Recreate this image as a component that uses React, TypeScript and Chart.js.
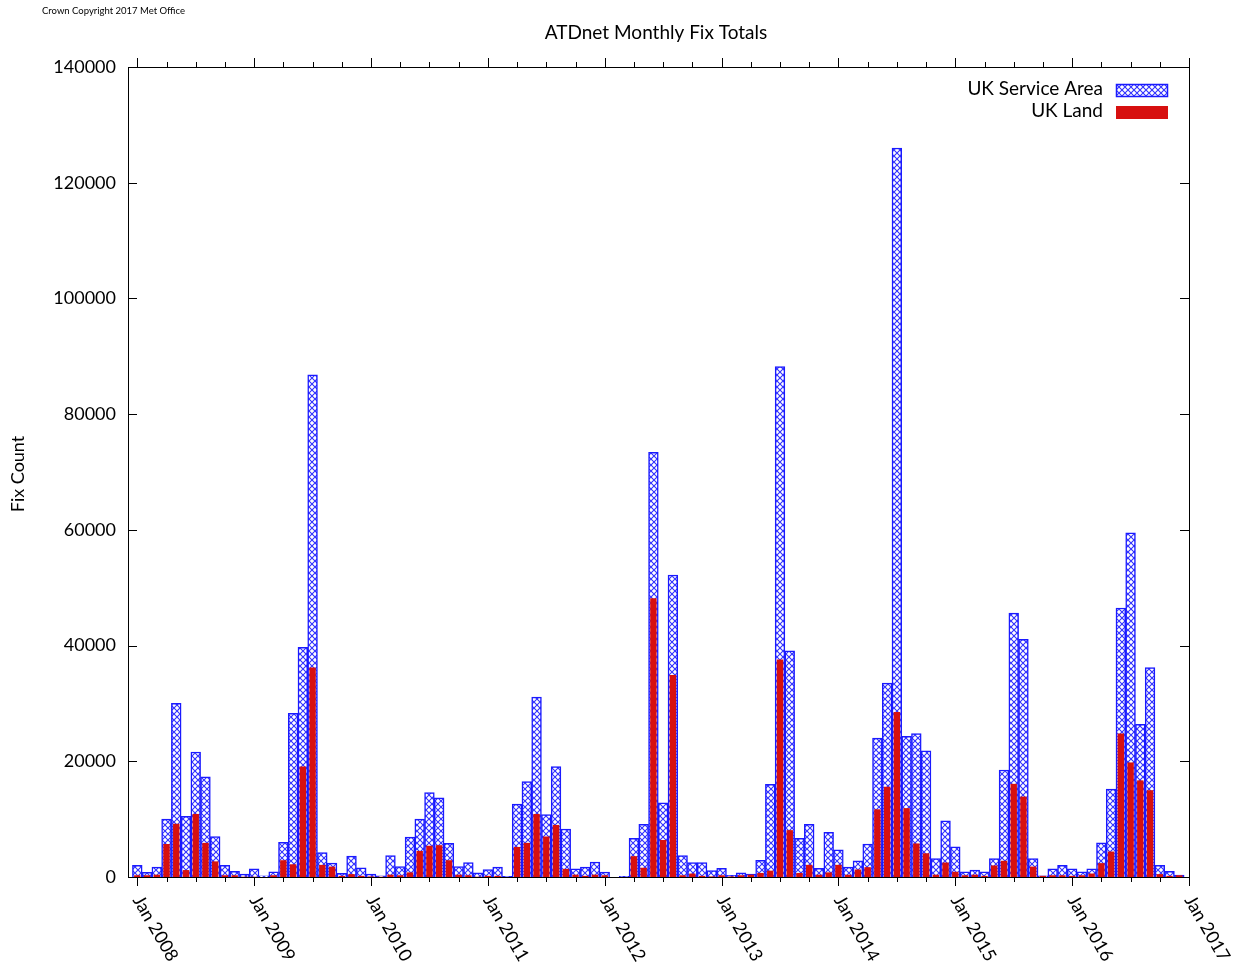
import React, { useEffect, useRef } from 'react';
import { Chart, registerables } from 'chart.js';

Chart.register(...registerables);

// ---- data ----
const yearLabels = [
  'Jan 2008', 'Jan 2009', 'Jan 2010', 'Jan 2011', 'Jan 2012',
  'Jan 2013', 'Jan 2014', 'Jan 2015', 'Jan 2016', 'Jan 2017',
];

// monthly totals, Jan 2008 .. Dec 2016
const serviceArea = [
  2000, 800, 1700, 10000, 30000, 10500, 21600, 17300, 7000, 2000, 1000, 500,
  1400, 200, 900, 6000, 28300, 39700, 86800, 4200, 2400, 650, 3600, 1600,
  500, 200, 3700, 1800, 6900, 10000, 14600, 13700, 5800, 1800, 2500, 700,
  1300, 1700, 100, 12600, 16500, 31100, 10800, 19100, 8300, 1400, 1700, 2600,
  850, 0, 100, 6700, 9100, 73400, 12800, 52200, 3700, 2500, 2500, 1100,
  1500, 300, 700, 500, 2900, 16000, 88200, 39100, 6700, 9100, 1500, 7700,
  4700, 1700, 2800, 5700, 24000, 33500, 126000, 24300, 24800, 21800, 3200, 9700,
  5200, 900, 1200, 900, 3200, 18500, 45600, 41100, 3200, 200, 1400, 2000,
  1400, 900, 1400, 5900, 15200, 46500, 59500, 26400, 36200, 2000, 1000, 350,
];

const ukLand = [
  300, 300, 400, 5700, 9200, 1200, 10900, 5900, 2700, 300, 300, 50,
  50, 0, 300, 2900, 2200, 19100, 36200, 2100, 1800, 200, 500, 200,
  100, 50, 400, 300, 800, 4500, 5400, 5500, 2900, 400, 300, 50,
  200, 200, 0, 5200, 5900, 10900, 7000, 9000, 1400, 400, 200, 400,
  300, 0, 0, 3600, 1600, 48200, 6400, 34900, 300, 600, 200, 100,
  300, 100, 300, 400, 700, 1100, 37600, 8100, 700, 2100, 400, 800,
  2100, 400, 1300, 1700, 11700, 15600, 28500, 11900, 5800, 4100, 400, 2500,
  900, 300, 400, 200, 2000, 2800, 16100, 13900, 1800, 200, 300, 300,
  200, 300, 600, 2400, 4400, 24800, 19800, 16700, 15000, 500, 200, 300,
];

const yTickValues = [0, 20000, 40000, 60000, 80000, 100000, 120000, 140000];

const seriesNames = ['UK Service Area', 'UK Land'];
const titleText = 'ATDnet Monthly Fix Totals';
const yAxisTitle = 'Fix Count';
const copyrightText = 'Crown Copyright 2017 Met Office';

const FONT = 'Lato, "DejaVu Sans", sans-serif';
const BLUE = '#1a1aff';
const RED = '#d7100f';

function makeHatch(): CanvasPattern | string {
  const c = document.createElement('canvas');
  c.width = 6;
  c.height = 6;
  const g = c.getContext('2d');
  if (!g) return '#ccccff';
  g.fillStyle = '#ffffff';
  g.fillRect(0, 0, 6, 6);
  g.strokeStyle = 'rgba(25,25,255,0.9)';
  g.lineWidth = 1.1;
  g.beginPath();
  g.moveTo(0, 0);
  g.lineTo(6, 6);
  g.moveTo(6, 0);
  g.lineTo(0, 6);
  g.stroke();
  return g.createPattern(c, 'repeat') || '#ccccff';
}

export default function App() {
  const ref = useRef<HTMLCanvasElement | null>(null);

  useEffect(() => {
    if (!ref.current) return;
    const hatch = makeHatch();

    const decor = {
      id: 'decor',
      afterDraw(chart: any) {
        const ctx: CanvasRenderingContext2D = chart.ctx;
        const { left, right, top, bottom } = chart.chartArea;
        const xs = chart.scales.x;
        const ys = chart.scales.y;
        ctx.save();
        ctx.strokeStyle = '#000';
        ctx.lineWidth = 1;
        // border
        ctx.strokeRect(Math.round(left) + 0.5, Math.round(top) + 0.5, Math.round(right - left), Math.round(bottom - top));
        // y ticks (inward, both sides)
        ctx.beginPath();
        yTickValues.forEach((v) => {
          const py = Math.round(ys.getPixelForValue(v)) + 0.5;
          ctx.moveTo(left, py);
          ctx.lineTo(left + 9, py);
          ctx.moveTo(right, py);
          ctx.lineTo(right - 9, py);
        });
        // x ticks (outward, bottom and top), every 3 months
        for (let m = 0; m <= yearLabels.length * 12 - 12; m += 3) {
          const px = Math.round(xs.getPixelForValue(m)) + 0.5;
          const major = m % 12 === 0;
          const len = major ? 9 : 5;
          ctx.moveTo(px, bottom);
          ctx.lineTo(px, bottom + len);
          ctx.moveTo(px, top);
          ctx.lineTo(px, top - len);
        }
        ctx.stroke();

        ctx.fillStyle = '#000';
        // x labels rotated
        ctx.font = `18px ${FONT}`;
        ctx.textAlign = 'left';
        ctx.textBaseline = 'middle';
        yearLabels.forEach((lab, k) => {
          const px = xs.getPixelForValue(k * 12);
          ctx.save();
          ctx.translate(px, bottom + 20);
          ctx.rotate((60 * Math.PI) / 180);
          ctx.fillText(lab, 0, 0);
          ctx.restore();
        });

        // title
        ctx.font = `19px ${FONT}`;
        ctx.textAlign = 'center';
        ctx.fillText(titleText, 656, 33);

        // copyright
        ctx.font = `9.5px ${FONT}`;
        ctx.textAlign = 'left';
        ctx.fillText(copyrightText, 42, 11);

        // y axis title
        ctx.save();
        ctx.font = `18px ${FONT}`;
        ctx.textAlign = 'center';
        ctx.translate(18, 474);
        ctx.rotate(-Math.PI / 2);
        ctx.fillText(yAxisTitle, 0, 0);
        ctx.restore();

        // legend
        ctx.font = `19px ${FONT}`;
        ctx.textAlign = 'right';
        ctx.fillText(seriesNames[0], 1103, 89);
        ctx.fillText(seriesNames[1], 1103, 111);
        ctx.fillStyle = hatch as any;
        ctx.fillRect(1116, 84, 52, 13);
        ctx.strokeStyle = BLUE;
        ctx.lineWidth = 1.5;
        ctx.strokeRect(1116.5, 84.5, 51, 12);
        ctx.fillStyle = RED;
        ctx.fillRect(1116, 106, 52, 13);
        ctx.restore();
      },
    };

    const chart = new Chart(ref.current, {
      type: 'bar',
      data: {
        datasets: [
          {
            label: seriesNames[0],
            data: serviceArea.map((y, i) => ({ x: i, y })),
            backgroundColor: hatch as any,
            borderColor: BLUE,
            borderWidth: 1.5,
            barPercentage: 1,
            categoryPercentage: 1,
            grouped: false,
            order: 2,
          } as any,
          {
            label: seriesNames[1],
            data: ukLand.map((y, i) => ({ x: i, y })),
            backgroundColor: RED,
            borderWidth: 0,
            barPercentage: 0.66,
            categoryPercentage: 1,
            grouped: false,
            order: 1,
          } as any,
        ],
      },
      options: {
        animation: false,
        responsive: false,
        devicePixelRatio: 1,
        layout: { padding: { left: 0, right: 56, top: 67, bottom: 0 } },
        plugins: {
          legend: { display: false },
          tooltip: { enabled: false },
          title: { display: false },
        },
        scales: {
          x: {
            type: 'linear',
            min: -0.955,
            max: 108,
            offset: false,
            grid: { display: false, drawTicks: false },
            border: { display: false },
            ticks: { display: false },
            afterFit: (s: any) => {
              s.height = 89;
            },
          },
          y: {
            min: 0,
            max: 140000,
            grid: { display: false, drawTicks: false },
            border: { display: false },
            ticks: {
              stepSize: 20000,
              color: '#000',
              padding: 12,
              font: { family: FONT, size: 18 },
              callback: (v: any) => String(v),
            },
            afterFit: (s: any) => {
              s.width = 128;
            },
          },
        },
      } as any,
      plugins: [decor],
    });

    return () => chart.destroy();
  }, []);

  return (
    <div style={{ position: 'absolute', left: 0, top: 0, width: 1245, height: 966, background: '#fff' }}>
      <canvas ref={ref} width={1245} height={966} style={{ display: 'block' }} />
    </div>
  );
}
